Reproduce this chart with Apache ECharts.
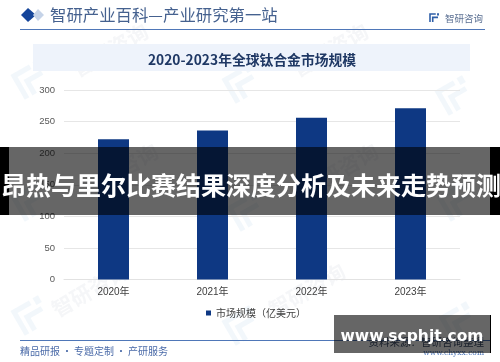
<!DOCTYPE html>
<html>
<head>
<meta charset="utf-8">
<style>
  html, body { margin: 0; padding: 0; background: #fff; }
  #chart { width: 500px; height: 362px; }
</style>
<script src="https://cdn.jsdelivr.net/npm/echarts@6/dist/echarts.min.js"></script>
</head>
<body>
<div id="chart"></div>
<script>
var years = ['2020年', '2021年', '2022年', '2023年'];
var marketSize = [222, 236, 256, 271];
var yTicks = [0, 50, 100, 150, 200, 250, 300];
var seriesName = '市场规模（亿美元）';
var chartTitle = '2020-2023年全球钛合金市场规模';
var headerText = '智研产业百科—产业研究第一站';
var footerText = '精品研报\u2009·\u2009专题定制\u2009·\u2009产研服务';
var bannerText = '昂热与里尔比赛结果深度分析及未来走势预测';
var siteText = 'www.scphjt.com';

var cjk = '"Noto Sans CJK SC", sans-serif';

function label(x, y, text, size, color, extra) {
  var style = { x: x, y: y, text: text, fontSize: size, fill: color, fontFamily: cjk, textVerticalAlign: 'middle' };
  for (var k in extra) style[k] = extra[k];
  return { type: 'text', z: 1, silent: true, style: style };
}

function box(x, y, w, h, fill, z) {
  return { type: 'rect', z: z, silent: true, shape: { x: x, y: y, width: w, height: h }, style: { fill: fill } };
}

// company mark, also used faintly behind the plot
function mark(x, y, s, c, angle, z) {
  return {
    type: 'group', x: x, y: y, rotation: angle, z: z, silent: true,
    children: [
      { type: 'polyline', shape: { points: [[0, s], [0, 0], [s * 0.72, 0]] }, style: { stroke: c, lineWidth: s * 0.2, fill: null } },
      { type: 'polyline', shape: { points: [[s * 0.34, s], [s * 0.34, s * 0.42], [s, s * 0.42]] }, style: { stroke: c, lineWidth: s * 0.2, fill: null } },
      { type: 'rect', shape: { x: s * 0.88, y: -s * 0.1, width: s * 0.24, height: s * 0.3 }, style: { fill: c } }
    ]
  };
}

function faint(x, y) {
  return mark(x, y, 26, 'rgba(92,150,205,0.08)', Math.PI / 6, -1);
}

function stamp(x, y) {
  return {
    type: 'text', x: x, y: y, rotation: Math.PI / 6, z: -1, silent: true,
    style: { text: '智研咨询', fontSize: 21, fill: 'rgba(110,130,160,0.07)', fontFamily: cjk, fontWeight: 'bold', textAlign: 'center', textVerticalAlign: 'middle' }
  };
}

var decorations = [
  faint(14, 76), faint(225, 80), faint(438, 92),
  faint(14, 198), faint(230, 208), faint(440, 198),
  faint(14, 312), faint(225, 322), faint(442, 318),
  stamp(110, 50), stamp(330, 50), stamp(120, 170), stamp(340, 170), stamp(90, 290), stamp(307, 290),

  // header
  { type: 'polygon', z: 1, silent: true, shape: { points: [[28, 8], [36, 15], [28, 22], [21, 15]] }, style: { fill: '#15459a' } },
  { type: 'polygon', z: 1, silent: true, shape: { points: [[38, 9], [44, 15], [38, 21], [33, 15]] }, style: { fill: '#c5d3e8' } },
  label(50, 15, headerText, 16.4, '#45618f', {}),
  box(20, 29, 465, 1, '#4f77b8', 1),
  box(33, 44, 437, 27, '#eef3fb', 0),
  label(252, 59.5, chartTitle, 13.8, '#1f3864', { fontWeight: 'bold', textAlign: 'center' }),
  mark(430, 14, 8, '#2f5fa8', 0, 1),
  label(445, 18, '智研咨询', 9.5, '#5a6f92', {}),

  // footer
  box(20, 340, 470, 1, '#4f77b8', 1),
  label(20, 351.5, footerText, 10, '#4a6aa8', {}),
  label(484, 342, '资料来源：智研咨询整理', 10.5, '#3f4f6b', { textAlign: 'right' }),
  label(484, 353.5, 'www.chyxx.com', 7.5, '#4f77b8', { textAlign: 'right', fontFamily: '"DejaVu Serif", serif' }),

  // overlays on top of everything
  box(0, 147, 9, 68, '#000', 50),
  box(490, 147, 10, 68, '#000', 50),
  box(9, 147, 481, 68, 'rgba(0,0,0,0.6)', 50),
  { type: 'text', z: 51, silent: true, style: { x: 251, y: 185.5, text: bannerText, fontSize: 25, fontWeight: 'bold', fill: '#fff', fontFamily: cjk, textAlign: 'center', textVerticalAlign: 'middle' } },
  box(334, 315, 156, 38, 'rgba(0,0,0,0.6)', 50),
  box(490, 315, 1, 38, '#000', 50),
  { type: 'text', z: 51, silent: true, style: { x: 412, y: 337, text: siteText, fontSize: 15.5, fontWeight: 'bold', fill: '#fff', fontFamily: '"DejaVu Sans", sans-serif', textAlign: 'center', textVerticalAlign: 'middle' } }
];

var chart = echarts.init(document.getElementById('chart'), null, { renderer: 'canvas' });
chart.setOption({
  animation: false,
  backgroundColor: '#fff',
  grid: { left: 64, right: 40, top: 90, height: 189.5 },
  legend: {
    data: [seriesName],
    top: 303,
    left: 201,
    itemWidth: 5,
    itemHeight: 5,
    icon: 'rect',
    textStyle: { fontSize: 10, color: '#404040', fontFamily: cjk }
  },
  xAxis: {
    type: 'category',
    data: years,
    axisTick: { show: false },
    axisLine: { lineStyle: { color: '#e2e2e2', width: 1 } },
    axisLabel: { fontSize: 10, color: '#404040', margin: 8, fontFamily: '"Liberation Sans", ' + cjk }
  },
  yAxis: {
    type: 'value',
    min: yTicks[0],
    max: yTicks[yTicks.length - 1],
    interval: yTicks[1] - yTicks[0],
    axisLine: { show: false },
    axisTick: { show: false },
    axisLabel: { fontSize: 9.5, color: '#595959', margin: 9, fontFamily: '"Liberation Sans", sans-serif' },
    splitLine: { lineStyle: { color: '#e6e6e6', width: 1 } }
  },
  series: [{
    name: seriesName,
    type: 'bar',
    z: 2,
    data: marketSize,
    barWidth: 31,
    itemStyle: { color: '#0e3883' }
  }],
  graphic: { elements: decorations }
});
</script>
</body>
</html>
